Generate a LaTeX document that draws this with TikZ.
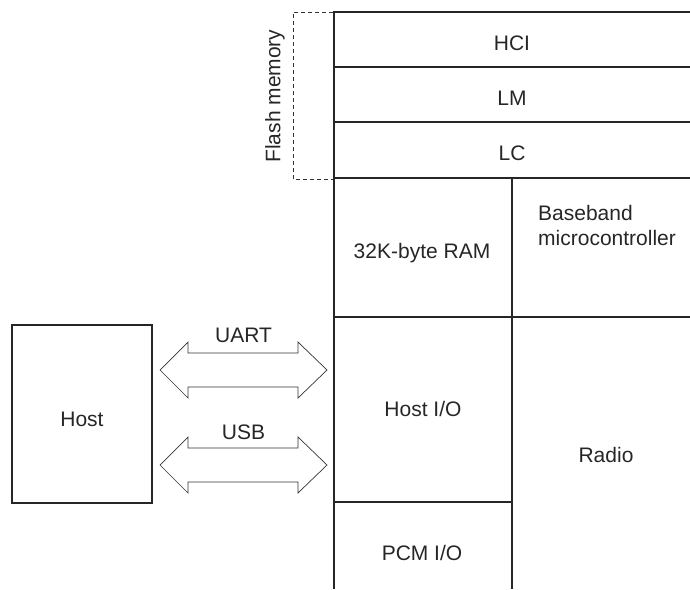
\documentclass[tikz,border=0pt]{standalone}
\usepackage{fontspec}
\setmainfont{Liberation Sans}
\usepackage{tikz}
\usetikzlibrary{shapes}

\tikzset{
	block/.style={line width=1.6pt, black!85},
	label/.style={inner sep=0pt, anchor=base, font=\fontsize{21}{25}\selectfont, black!85},
	bus/.style={line width=0.7pt, black!80, line join=miter},
}

\begin{document}
\begin{tikzpicture}[x=1pt, y=-1pt]
	
	\useasboundingbox (0,0) rectangle (690,589);
	
	% flash memory bracket
	\draw [line width=0.8pt, dash pattern=on 4pt off 3pt, black!80] (333,12) -- (293,12) -- (293,179) -- (333,179);
	\node [label, rotate=90, anchor=center] (F) at (275,96){Flash memory};
	
	% stack
	\draw [block] (334,12) -- (690,12);
	\draw [block] (334,67) -- (690,67);
	\draw [block] (334,122) -- (690,122);
	\draw [block] (334,178) -- (690,178);
	\draw [block] (334,317) -- (690,317);
	\draw [block] (334,502) -- (512,502);
	\draw [block] (334,11.2) -- (334,589);
	\draw [block] (512,178) -- (512,589);
	
	\node [label] (HCI) at (512,50){HCI};
	\node [label] (LM) at (512,105){LM};
	\node [label] (LC) at (512,160){LC};
	\node [label] (RAM) at (422,258){32K-byte RAM};
	\node [label, anchor=base west, align=left] (BB) at (538,245){Baseband\\microcontroller};
	\node [label] (HIO) at (423,416){Host I/O};
	\node [label] (R) at (606,462){Radio};
	\node [label] (PCM) at (422,560){PCM I/O};
	
	% host
	\draw [block] (12,325) rectangle (152,503);
	\node [label] (H) at (82,426){Host};
	
	% buses
	\coordinate (U) at (160,370);
	\coordinate (S) at (160,465);
	\draw [bus] (U) -- ++(28,-28) -- ++(0,11) -- ++(110,0) -- ++(0,-11) -- ++(29,28) -- ++(-29,28) -- ++(0,-11) -- ++(-110,0) -- ++(0,11) -- cycle;
	\draw [bus] (S) -- ++(28,-28) -- ++(0,11) -- ++(110,0) -- ++(0,-11) -- ++(29,28) -- ++(-29,28) -- ++(0,-11) -- ++(-110,0) -- ++(0,11) -- cycle;
	\node [label] (UART) at (243.5,342){UART};
	\node [label] (USB) at (243.5,439){USB};
	
\end{tikzpicture}
\end{document}
